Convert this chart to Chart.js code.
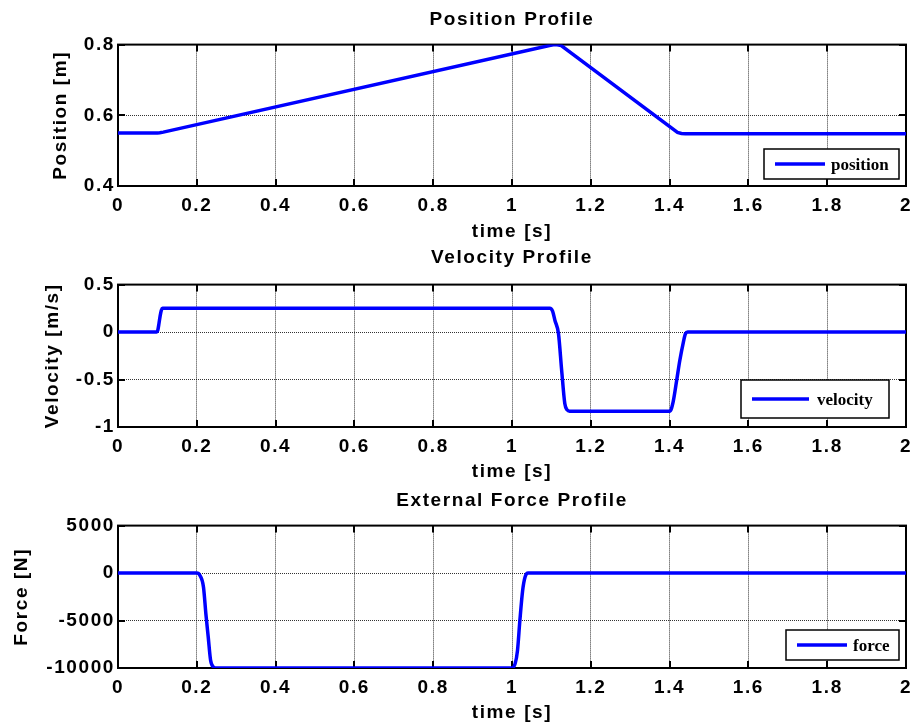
<!DOCTYPE html>
<html>
<head>
<meta charset="utf-8">
<script src="https://cdn.jsdelivr.net/npm/chart.js@4.4.0/dist/chart.umd.min.js"></script>
<style>
  html, body { margin: 0; padding: 0; background: #fff; }
  body { width: 914px; height: 727px; position: relative; overflow: hidden; }
  canvas { position: absolute; left: 0; }
</style>
</head>
<body>
<canvas id="posChart" width="914" height="243" style="top:0"></canvas>
<canvas id="velChart" width="914" height="240" style="top:243px"></canvas>
<canvas id="forceChart" width="914" height="241" style="top:483px"></canvas>
<script>
// shared time axis
const timeTicks = [0, 0.2, 0.4, 0.6, 0.8, 1, 1.2, 1.4, 1.6, 1.8, 2];

// position profile
const posTicks = [0.4, 0.6, 0.8];
const posTime = [0, 0.1, 0.106, 0.115, 1.095, 1.105, 1.115, 1.125, 1.42, 1.43, 1.44, 2];
const posValues = [0.55, 0.55, 0.5505, 0.5525, 0.7975, 0.7993, 0.7995, 0.797, 0.5515, 0.5488, 0.548, 0.548];

// velocity profile
const velTicks = [-1, -0.5, 0, 0.5];
const velTime = [0, 0.098, 0.101, 0.104, 0.107, 0.11, 0.113, 1.096, 1.103, 1.109, 1.118, 1.126,
  1.134, 1.14, 1.146, 1.401, 1.409, 1.418, 1.426, 1.435, 1.44, 1.446, 2];
const velValues = [0, 0, 0.02, 0.09, 0.17, 0.23, 0.25, 0.25, 0.22, 0.122, -0.017, -0.40,
  -0.752, -0.82, -0.833, -0.833, -0.735, -0.507, -0.297, -0.105, -0.02, 0, 0];

// external force profile
const forceTicks = [-10000, -5000, 0, 5000];
const forceTime = [0, 0.2, 0.208, 0.217, 0.223, 0.229, 0.235, 0.242, 0.25, 0.999, 1.008,
  1.014, 1.02, 1.027, 1.033, 1.041, 2];
const forceValues = [0, 0, -256, -1486, -4283, -6740, -9190, -9890, -10000, -10000, -9540,
  -8140, -4986, -1833, -434, 0, 0];

const FONT = '"Liberation Sans", Arial, Helvetica, sans-serif';
const labelFont = { family: FONT, size: 19, weight: 'bold' };
const BLUE = '#0000ff';

// MATLAB-ish box, inward ticks and legend
const matlabAxes = {
  id: 'matlabAxes',
  beforeDraw(chart) {
    chart.ctx.letterSpacing = '1.6px';
  },
  beforeDatasetsDraw(chart) {
    const { ctx, chartArea: a, scales: { x, y } } = chart;
    ctx.save();
    ctx.strokeStyle = '#000';
    ctx.lineWidth = 2;
    ctx.strokeRect(a.left, a.top, a.right - a.left, a.bottom - a.top);
    ctx.beginPath();
    const len = 7;
    x.ticks.forEach(t => {
      const px = Math.round(x.getPixelForValue(t.value));
      ctx.moveTo(px, a.bottom); ctx.lineTo(px, a.bottom - len);
      ctx.moveTo(px, a.top); ctx.lineTo(px, a.top + len);
    });
    y.ticks.forEach(t => {
      const py = Math.round(y.getPixelForValue(t.value));
      ctx.moveTo(a.left, py); ctx.lineTo(a.left + len, py);
      ctx.moveTo(a.right, py); ctx.lineTo(a.right - len, py);
    });
    ctx.stroke();
    ctx.restore();
  },
  afterDraw(chart, args, o) {
    const ctx = chart.ctx;
    const ds = chart.data.datasets[0];
    ctx.save();
    ctx.letterSpacing = '0px';
    ctx.fillStyle = '#fff';
    ctx.fillRect(o.x, o.y, o.w, o.h);
    ctx.strokeStyle = '#000';
    ctx.lineWidth = 1.5;
    ctx.strokeRect(o.x, o.y, o.w, o.h);
    ctx.strokeStyle = ds.borderColor;
    ctx.lineWidth = 3.5;
    ctx.beginPath();
    ctx.moveTo(o.lx0, o.ly);
    ctx.lineTo(o.lx1, o.ly);
    ctx.stroke();
    ctx.fillStyle = '#000';
    ctx.font = 'bold 17px "Liberation Serif", "Times New Roman", serif';
    ctx.textBaseline = 'middle';
    ctx.textAlign = 'left';
    ctx.fillText(ds.label, o.tx, o.ly + 2);
    ctx.restore();
  }
};

function makeChart(id, cfg) {
  return new Chart(document.getElementById(id), {
    type: 'line',
    data: {
      datasets: [{
        label: cfg.label,
        data: cfg.time.map((t, i) => ({ x: t, y: cfg.values[i] })),
        borderColor: BLUE,
        borderWidth: 3.5,
        pointRadius: 0,
        cubicInterpolationMode: cfg.smooth ? 'monotone' : 'default',
        tension: 0,
        fill: false
      }]
    },
    options: {
      responsive: false,
      animation: false,
      devicePixelRatio: 1,
      layout: { padding: { left: 0, right: 8, top: 0, bottom: 0 }, autoPadding: false },
      plugins: {
        legend: { display: false },
        tooltip: { enabled: false },
        title: {
          display: true,
          text: cfg.title,
          fullSize: false,
          color: '#000',
          font: labelFont,
          padding: { top: cfg.titleTop, bottom: cfg.titleBottom }
        },
        matlabAxes: cfg.legend
      },
      scales: {
        x: {
          type: 'linear',
          min: 0,
          max: 2,
          afterBuildTicks: s => { s.ticks = timeTicks.map(v => ({ value: v })); },
          afterFit: s => { s.height = cfg.xHeight; s.paddingLeft = 0; s.paddingRight = 0; },
          ticks: { autoSkip: false, maxRotation: 0, padding: 8, color: '#000', font: labelFont,
            callback: v => String(v) },
          grid: { color: 'rgba(0,0,0,0.8)', lineWidth: 1, drawTicks: false },
          border: { display: false, dash: [1, 1] },
          title: { display: true, text: 'time [s]', color: '#000', font: labelFont,
            padding: { top: 0, bottom: 0 } }
        },
        y: {
          type: 'linear',
          min: cfg.ticks[0],
          max: cfg.ticks[cfg.ticks.length - 1],
          afterBuildTicks: s => { s.ticks = cfg.ticks.map(v => ({ value: v })); },
          afterFit: s => { s.width = 118; s.paddingTop = 0; s.paddingBottom = 0; },
          ticks: { autoSkip: false, padding: 3, color: '#000', font: labelFont,
            callback: v => String(v) },
          grid: { color: 'rgba(0,0,0,0.8)', lineWidth: 1, drawTicks: false },
          border: { display: false, dash: [1, 1] },
          title: { display: true, text: cfg.yTitle, color: '#000', font: labelFont,
            padding: { top: cfg.yTitlePad, bottom: 0 } }
        }
      }
    },
    plugins: [matlabAxes]
  });
}

makeChart('posChart', {
  label: 'position', title: 'Position Profile', yTitle: 'Position [m]',
  time: posTime, values: posValues, ticks: posTicks, smooth: false,
  titleTop: 8.2, titleBottom: 13.6, xHeight: 57, yTitlePad: 49.6,
  legend: { x: 764, y: 149, w: 135, h: 30, lx0: 775, lx1: 825, ly: 164, tx: 831 }
});

makeChart('velChart', {
  label: 'velocity', title: 'Velocity Profile', yTitle: 'Velocity [m/s]',
  time: velTime, values: velValues, ticks: velTicks, smooth: true,
  titleTop: 3.2, titleBottom: 15.6, xHeight: 56, yTitlePad: 41.1,
  legend: { x: 741, y: 137, w: 148, h: 38, lx0: 752, lx1: 809, ly: 156, tx: 817 }
});

makeChart('forceChart', {
  label: 'force', title: 'External Force Profile', yTitle: 'Force [N]',
  time: forceTime, values: forceValues, ticks: forceTicks, smooth: true,
  titleTop: 6.7, titleBottom: 13.1, xHeight: 56, yTitlePad: 10.6,
  legend: { x: 786, y: 147, w: 113, h: 30, lx0: 797, lx1: 847, ly: 162, tx: 853 }
});
</script>
</body>
</html>
